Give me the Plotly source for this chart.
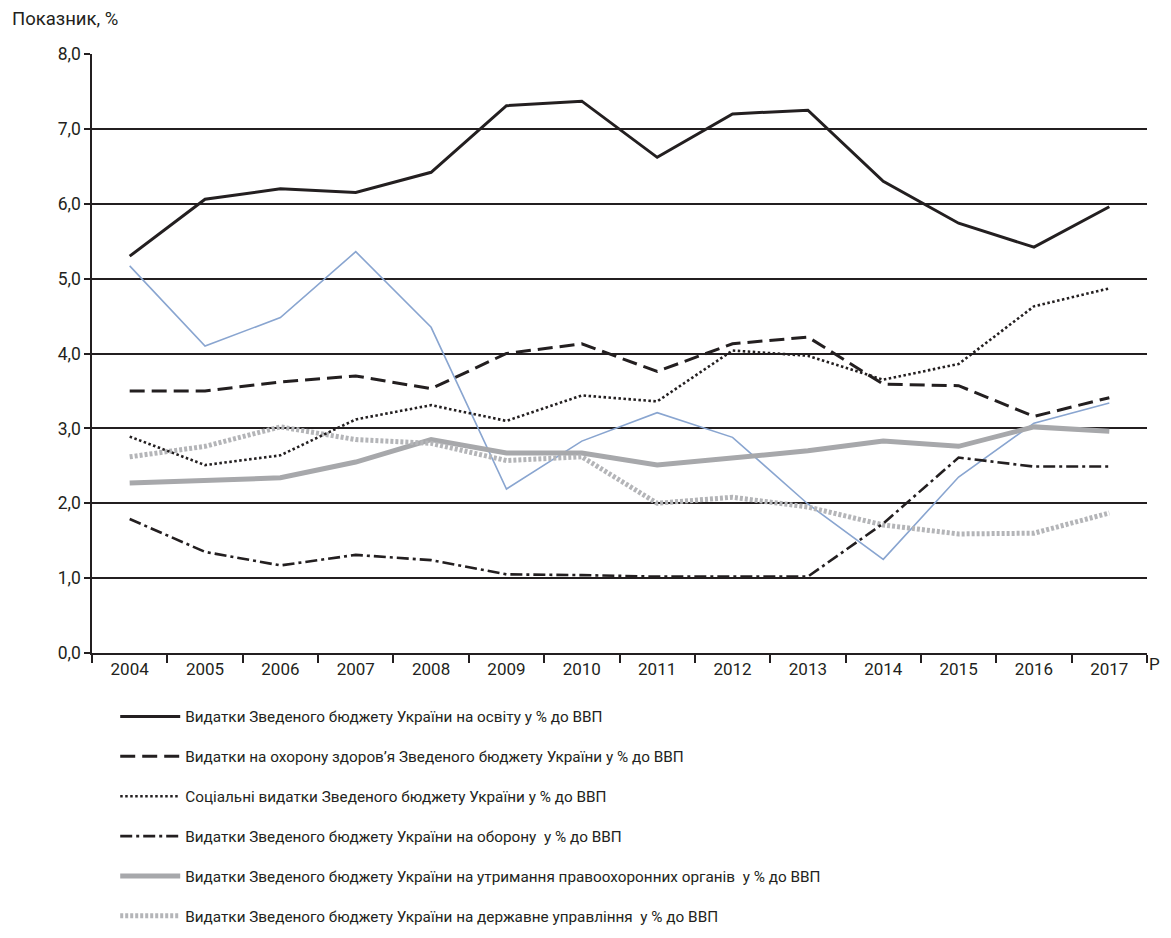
import plotly.graph_objects as go

years = ["2004", "2005", "2006", "2007", "2008", "2009", "2010",
         "2011", "2012", "2013", "2014", "2015", "2016", "2017"]

education = [5.30, 6.06, 6.20, 6.15, 6.42, 7.31, 7.37, 6.62, 7.20, 7.25, 6.30, 5.74, 5.42, 5.96]
health = [3.50, 3.50, 3.62, 3.70, 3.53, 4.00, 4.13, 3.76, 4.13, 4.22, 3.59, 3.57, 3.16, 3.41]
social = [2.89, 2.51, 2.64, 3.12, 3.31, 3.10, 3.44, 3.36, 4.04, 3.97, 3.65, 3.86, 4.63, 4.87]
defense = [1.79, 1.35, 1.17, 1.31, 1.24, 1.05, 1.04, 1.02, 1.02, 1.02, 1.73, 2.61, 2.49, 2.49]
law = [2.27, 2.30, 2.34, 2.55, 2.85, 2.67, 2.67, 2.51, 2.60, 2.70, 2.83, 2.76, 3.02, 2.96]
admin = [2.62, 2.76, 3.02, 2.85, 2.80, 2.57, 2.62, 2.00, 2.08, 1.95, 1.71, 1.59, 1.60, 1.87]
blue = [5.17, 4.10, 4.48, 5.36, 4.35, 2.19, 2.83, 3.21, 2.88, 1.99, 1.25, 2.35, 3.07, 3.34]

names = [
    "Видатки Зведеного бюджету України на освіту у % до ВВП",
    "Видатки на охорону здоров’я Зведеного бюджету України у % до ВВП",
    "Соціальні видатки Зведеного бюджету України у % до ВВП",
    "Видатки Зведеного бюджету України на оборону  у % до ВВП",
    "Видатки Зведеного бюджету України на утримання правоохоронних органів  у % до ВВП",
    "Видатки Зведеного бюджету України на державне управління  у % до ВВП",
]

FONT = "Roboto"
INK = "#231f20"

fig = go.Figure()

fig.add_trace(go.Scatter(x=years, y=blue, mode="lines", showlegend=False,
                         line=dict(color="#89a5d0", width=1.6)))
fig.add_trace(go.Scatter(x=years, y=law, mode="lines", name=names[4], legendgroup="g5",
                         legendrank=5, line=dict(color="#a7a8ab", width=5)))
fig.add_trace(go.Scatter(x=years, y=admin, mode="lines", name=names[5], legendgroup="g6",
                         legendrank=6, line=dict(color="#b4b5b8", width=5, dash="3px,2px")))
fig.add_trace(go.Scatter(x=years, y=defense, mode="lines", name=names[3], legendgroup="g4",
                         legendrank=4, line=dict(color=INK, width=2.6, dash="12px,4px,3px,4px")))
fig.add_trace(go.Scatter(x=years, y=social, mode="lines", name=names[2], legendgroup="g3",
                         legendrank=3, line=dict(color=INK, width=2.6, dash="2.5px,2.5px")))
fig.add_trace(go.Scatter(x=years, y=health, mode="lines", name=names[1], legendgroup="g2",
                         legendrank=2, line=dict(color=INK, width=3, dash="15px,7px")))
fig.add_trace(go.Scatter(x=years, y=education, mode="lines", name=names[0], legendgroup="g1",
                         legendrank=1, line=dict(color=INK, width=3)))

fig.update_layout(
    width=1155, height=922,
    margin=dict(l=84, r=16, t=46, b=277),
    paper_bgcolor="white", plot_bgcolor="white",
    separators=",.",
    font=dict(family=FONT, size=16, color=INK),
    showlegend=True,
    legend=dict(
        xref="paper", yref="container",
        x=0.022, y=0.2495, xanchor="left", yanchor="top",
        orientation="v", traceorder="grouped", tracegroupgap=17,
        itemwidth=60, font=dict(family=FONT, size=15.3, color=INK),
        bgcolor="rgba(0,0,0,0)",
    ),
    xaxis=dict(
        type="category", showgrid=False, showline=True, linecolor=INK, linewidth=1.5,
        ticks="outside", tickson="boundaries", ticklen=8, tickwidth=1.5, tickcolor=INK,
        tickfont=dict(family=FONT, size=17, color=INK), range=[-0.5, 13.5],
    ),
    yaxis=dict(
        range=[0, 8], dtick=1, tick0=0, tickformat=".1f",
        showgrid=True, gridcolor=INK, gridwidth=1.5, zeroline=False,
        showline=True, linecolor=INK, linewidth=1.5,
        ticks="outside", ticklen=6, tickwidth=1.5, tickcolor=INK,
        tickfont=dict(family=FONT, size=17.5, color=INK),
    ),
    annotations=[
        dict(text="Показник, %", xref="paper", yref="paper", x=-0.078, y=1.0576,
             xanchor="left", yanchor="middle", showarrow=False,
             font=dict(family=FONT, size=18.5, color=INK)),
        dict(text="Р", xref="paper", yref="paper", x=1.0142, y=-0.018,
             xanchor="right", yanchor="middle", showarrow=False,
             font=dict(family=FONT, size=17, color=INK)),
    ],
)

fig.write_html("out.html")
